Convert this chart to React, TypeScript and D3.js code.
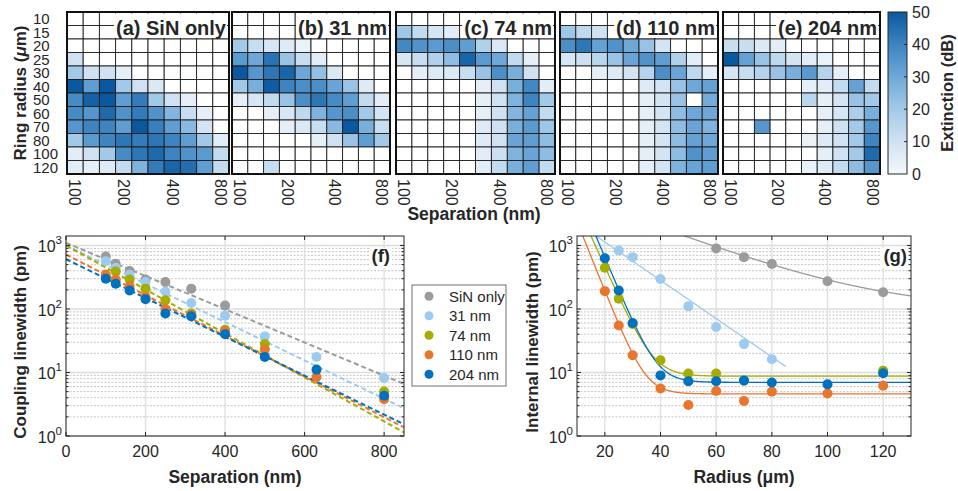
import React from 'react';
import * as d3 from 'd3';

const FONT = '"Liberation Sans", Arial, Helvetica, sans-serif';
const TXT = '#262626';

// ---------------- heatmap data ----------------
const radiusCats = ['10', '15', '20', '25', '30', '40', '50', '60', '70', '80', '100', '120'];
const sepCats = ['100', '126', '158', '200', '251', '316', '398', '501', '631', '794'];
const sepTickCats = ['100', '200', '398', '794'];
const sepTickLabels = ['100', '200', '400', '800'];
const panelTitles = ['(a) SiN only', '(b) 31 nm', '(c) 74 nm', '(d) 110 nm', '(e) 204 nm'];
const extTicks = [0, 10, 20, 30, 40, 50];

const N = null;
const extA = [
  [N, N, N, N, N, N, N, N, N, N],
  [N, N, N, N, N, N, N, N, N, N],
  [N, N, N, N, N, N, N, N, N, N],
  [10, N, N, N, N, N, N, N, N, N],
  [20, 10, 10, 4, N, N, N, N, N, N],
  [50, 33, 50, 20, 10, 7, N, N, N, N],
  [38, 48, 50, 33, 42, 20, 10, 4, N, N],
  [38, 35, 46, 36, 42, 36, 26, 12, 4, N],
  [35, 40, 40, 33, 50, 41, 33, 25, 9, N],
  [20, 34, 40, 43, 42, 43, 40, 33, 20, 5],
  [5, 10, 20, 38, 43, 46, 40, 36, 34, 13],
  [5, 4, 6, 13, 27, 42, 47, 45, 33, 13],
];
const extB = [
  [N, N, N, N, N, N, N, N, N, N],
  [N, N, N, N, N, N, N, N, N, N],
  [20, 12, 8, 6, 3, N, N, N, N, N],
  [34, 30, 44, 22, 12, 5, N, N, N, N],
  [50, 35, 43, 47, 30, 23, 7, N, N, N],
  [20, 28, 49, 40, 37, 37, 31, 22, 6, N],
  [4, 8, 13, 22, 37, 43, 38, 33, 13, 5],
  [N, N, 4, 8, 14, 27, 35, 37, 20, 9],
  [N, N, N, 4, 7, 12, 25, 50, 28, 12],
  [N, N, N, N, N, 4, 10, 22, 33, 20],
  [N, N, N, N, N, N, N, N, N, N],
  [N, N, 12, N, N, N, N, N, N, N],
];
const extC = [
  [N, N, N, N, N, N, N, N, N, N],
  [21, 13, 8, 5, N, N, N, N, N, N],
  [39, 36, 34, 37, 33, 17, 7, N, N, N],
  [8, 12, 17, 24, 47, 34, 30, 13, 4, N],
  [N, 4, 6, 7, 12, 22, 37, 28, 10, N],
  [N, N, N, N, N, 4, 10, 28, 39, 5],
  [N, N, N, N, N, 4, 10, 27, 40, 20],
  [N, N, N, N, N, 4, 10, 26, 32, 13],
  [N, N, N, N, N, 6, 10, 28, 34, 21],
  [N, N, N, N, N, 6, 10, 31, 33, 24],
  [N, N, N, N, N, 5, 11, 27, 31, 24],
  [N, N, N, N, N, 5, 13, 28, 33, 13],
];
const extD = [
  [N, N, N, N, N, N, N, N, N, N],
  [21, 14, 10, N, N, N, N, N, N, N],
  [37, 43, 32, 36, 30, 22, 9, N, N, N],
  [8, 11, 15, 22, 31, 36, 33, 17, 5, N],
  [N, N, 4, 6, 9, 16, 37, 31, 14, 4],
  [N, N, N, N, N, 6, 9, 22, 30, 32],
  [N, N, N, N, N, 4, 9, 22, N, 29],
  [N, N, N, N, N, 4, 9, 24, 30, 30],
  [N, N, N, N, N, 4, 9, 24, 31, 27],
  [N, N, N, N, N, 4, 9, 24, 32, 30],
  [N, N, N, N, N, 4, 9, 24, 36, 33],
  [N, N, N, N, N, 4, 9, 27, 31, 33],
];
const extE = [
  [N, N, N, N, N, N, N, N, N, N],
  [N, N, N, N, N, N, N, N, N, N],
  [12, 12, 7, 5, N, N, N, N, N, N],
  [50, 32, 22, 14, 9, 5, 3, N, N, N],
  [8, 12, 16, 22, 28, 34, 16, 4, N, N],
  [N, N, N, N, N, 4, 5, 13, 32, 13],
  [N, N, N, N, N, 15, 4, 9, 22, 20],
  [N, N, N, N, N, N, 4, 8, 18, 28],
  [N, N, 35, N, N, N, 4, 10, 20, 35],
  [N, N, N, N, N, 3, 6, 10, 20, 40],
  [N, N, N, N, N, N, 4, 10, 20, 46],
  [N, N, N, N, N, 3, 6, 13, 24, 35],
];
const extPanels = [extA, extB, extC, extD, extE];

// ---------------- line plot data ----------------
const seriesNames = ['SiN only', '31 nm', '74 nm', '110 nm', '204 nm'];
const seriesColors = ['#9b9b9b', '#9dcbef', '#a4ad00', '#e8762d', '#0071bf'];

const sepPoints = [100, 125, 160, 200, 250, 315, 400, 500, 630, 800];
const couplingSiN = [671, 516, 395, 290, 265, 209, 113, N, N, N];
const coupling31 = [567, 446, 347, 265, 189, 124, 78, 37, 17.6, 8.2];
const coupling74 = [N, 390, 290, 209, 137, 85, 47, 28, N, 5.0];
const coupling110 = [350, 290, 227, 155, 100, 80, 45, 23, 8.5, 3.8];
const coupling204 = [300, 250, 196, 142, 85, 77, 40, 17.6, 11.1, 4.3];
const couplingSeries = [couplingSiN, coupling31, coupling74, coupling110, coupling204];
// exponential fits: value at 0 nm and at 850 nm
const couplingFitStart = [1100, 1000, 1000, 720, 610];
const couplingFitEnd = [6.6, 2.73, 1.14, 1.37, 1.53];
const sepAxisTicks = [0, 200, 400, 600, 800];

const radiusPoints = [20, 25, 30, 40, 50, 60, 70, 80, 100, 120];
const internalSiN = [N, N, N, N, N, 900, 655, 513, 273, 183];
const internal31 = [N, 834, 655, 296, 110, 52, 28, 16.2, N, N];
const internal74 = [446, 145, 58, 15.6, 9.6, 9.6, 7.4, N, N, 10.7];
const internal110 = [191, 55, 18.7, 5.6, 3.07, 5.1, 3.57, 5.0, 4.66, 6.2];
const internal204 = [631, 196, 60, 9.0, 7.3, 7.3, 7.5, 6.95, 6.5, 9.7];
const internalSeries = [internalSiN, internal31, internal74, internal110, internal204];
// fits: base + amp * exp(-rate * R)
const internalFitBase = [100, 0, 8.75, 4.6, 7.0];
const internalFitAmp = [8256, 4566, 41300, 29800, 78700];
const internalFitRate = [0.0378, 0.0695, 0.225, 0.2526, 0.24];
const internalFitRmax = [130, 85, 130, 130, 130];
const radiusAxisTicks = [20, 40, 60, 80, 100, 120];

const yDecades = [1, 10, 100, 1000];
const yDecadeExp = ['0', '1', '2', '3'];

// ---------------- helpers ----------------
let _ctx: CanvasRenderingContext2D | null = null;
function textW(t: string, font: string): number {
  if (!_ctx) _ctx = document.createElement('canvas').getContext('2d');
  if (!_ctx) return t.length * 10;
  _ctx.font = font;
  return _ctx.measureText(t).width;
}

const extColor = d3
  .scaleLinear<string>()
  .domain([0, 10, 20, 30, 40, 50])
  .range(['#f4f8fc', '#d0e2f2', '#a3c9e8', '#6fa8d8', '#3d84c0', '#0a58a0'])
  .clamp(true);

const hmLeft = [67, 232, 396, 560, 723];
const hmRight = [229, 390, 555, 718, 880];
const hmTop = 12;
const hmBottom = 174;

function Heatmaps() {
  const yb = d3.scaleBand<string>().domain(radiusCats).range([hmTop, hmBottom]);
  const titleFont = `bold 20px "Liberation Sans", Arial`;
  return (
    <g>
      {extPanels.map((data, p) => {
        const xb = d3.scaleBand<string>().domain(sepCats).range([hmLeft[p], hmRight[p]]);
        const tw = textW(panelTitles[p], titleFont);
        const tx = hmRight[p] - 3;
        return (
          <g key={p}>
            {data.map((row, i) =>
              row.map((v, j) => (
                <rect
                  key={`${i}-${j}`}
                  x={xb(sepCats[j])}
                  y={yb(radiusCats[i])}
                  width={xb.bandwidth()}
                  height={yb.bandwidth()}
                  fill={v == null ? '#ffffff' : extColor(v)}
                  stroke="#1e1e1e"
                  strokeWidth={0.9}
                />
              ))
            )}
            <rect x={tx - tw - 2} y={hmTop + 1.5} width={tw + 3} height={24.5} fill="#fff" />
            <text x={tx} y={hmTop + 23} textAnchor="end" fontSize={20} fontWeight="bold" fill={TXT}>
              {panelTitles[p]}
            </text>
            <rect
              x={hmLeft[p]}
              y={hmTop}
              width={hmRight[p] - hmLeft[p]}
              height={hmBottom - hmTop}
              fill="none"
              stroke="#111"
              strokeWidth={2}
            />
            {sepTickCats.map((c, k) => (
              <text
                key={c}
                transform={`translate(${(xb(c) as number) + xb.bandwidth() / 2},${hmBottom + 5}) rotate(90)`}
                dy="0.35em"
                fontSize={16}
                fill={TXT}
              >
                {sepTickLabels[k]}
              </text>
            ))}
          </g>
        );
      })}
      {radiusCats.map((c) => (
        <text key={c} x={33} y={(yb(c) as number) + yb.bandwidth() / 2} dy="0.36em" fontSize={15} fill={TXT}>
          {c}
        </text>
      ))}
      <text
        transform={`translate(26,${(hmTop + hmBottom) / 2}) rotate(-90)`}
        textAnchor="middle"
        fontSize={17}
        fontWeight="bold"
        fill={TXT}
      >
        Ring radius (<tspan fontStyle="italic">μ</tspan>m)
      </text>
      <text x={474} y={220} textAnchor="middle" fontSize={17.5} fontWeight="bold" fill={TXT}>
        Separation (nm)
      </text>
    </g>
  );
}

function ColorBar() {
  const x0 = 888;
  const w = 19;
  const cy = d3.scaleLinear().domain([0, 50]).range([hmBottom, hmTop]);
  const stops = d3.range(0, 51, 5);
  return (
    <g>
      <defs>
        <linearGradient id="cbgrad" x1="0" y1="1" x2="0" y2="0">
          {stops.map((s) => (
            <stop key={s} offset={`${(s / 50) * 100}%`} stopColor={extColor(s)} />
          ))}
        </linearGradient>
      </defs>
      <rect x={x0} y={hmTop} width={w} height={hmBottom - hmTop} fill="url(#cbgrad)" stroke={TXT} strokeWidth={1} />
      {extTicks.map((t) => (
        <g key={t}>
          {t > 0 && t < 50 && <line x1={x0 + w - 3} x2={x0 + w} y1={cy(t)} y2={cy(t)} stroke={TXT} strokeWidth={1} />}
          <text x={x0 + w + 5} y={cy(t)} dy="0.36em" fontSize={16} fill={TXT}>
            {t}
          </text>
        </g>
      ))}
      <text
        transform={`translate(953,${(hmTop + hmBottom) / 2}) rotate(-90)`}
        textAnchor="middle"
        fontSize={16.5}
        fontWeight="bold"
        fill={TXT}
      >
        Extinction (dB)
      </text>
    </g>
  );
}

type AxesProps = {
  id: string;
  left: number;
  right: number;
  top: number;
  bottom: number;
  xDomain: [number, number];
  xTicks: number[];
  xLabel: React.ReactNode;
  yLabel: string;
  yLabelX: number;
  tag: string;
  tagRight: number;
  children: (x: d3.ScaleLinear<number, number>, y: d3.ScaleLogarithmic<number, number>) => React.ReactNode;
};

const Y_MAX = 1410;

function LogAxes(props: AxesProps) {
  const { id, left, right, top, bottom, xDomain, xTicks, xLabel, yLabel, yLabelX, tag, tagRight } = props;
  const x = d3.scaleLinear().domain(xDomain).range([left, right]);
  const y = d3.scaleLog().domain([1, Y_MAX]).range([bottom, top]);
  const minors: number[] = [];
  yDecades.forEach((d) => {
    for (let m = 2; m <= 9; m++) if (d * m < Y_MAX) minors.push(d * m);
  });
  const tagW = textW(tag, 'bold 18.5px "Liberation Sans", Arial');
  return (
    <g>
      <defs>
        <clipPath id={id}>
          <rect x={left} y={top} width={right - left} height={bottom - top} />
        </clipPath>
      </defs>
      <rect x={left} y={top} width={right - left} height={bottom - top} fill="#fff" />
      {minors.map((v) => (
        <line key={`m${v}`} x1={left} x2={right} y1={y(v)} y2={y(v)} stroke="#c6c6c6" strokeWidth={1} strokeDasharray="2,1.5" />
      ))}
      {yDecades.map((v) => (
        <line key={`d${v}`} x1={left} x2={right} y1={y(v)} y2={y(v)} stroke="#dcdcdc" strokeWidth={1.6} />
      ))}
      {xTicks.map((t) => (
        <line key={`g${t}`} x1={x(t)} x2={x(t)} y1={top} y2={bottom} stroke="#e0e0e0" strokeWidth={1.4} />
      ))}
      <rect x={tagRight - tagW - 2} y={top + 12} width={tagW + 4} height={20} fill="#fff" />
      <g clipPath={`url(#${id})`}>{props.children(x, y)}</g>
      <text x={tagRight} y={top + 25.5} textAnchor="end" fontSize={18.5} fontWeight="bold" fill={TXT}>
        {tag}
      </text>
      <rect x={left} y={top} width={right - left} height={bottom - top} fill="none" stroke={TXT} strokeWidth={1} />
      {xTicks.map((t) => (
        <g key={`t${t}`}>
          <line x1={x(t)} x2={x(t)} y1={bottom} y2={bottom - 4} stroke={TXT} />
          <line x1={x(t)} x2={x(t)} y1={top} y2={top + 4} stroke={TXT} />
          <text x={x(t)} y={bottom + 21} textAnchor="middle" fontSize={16} fill={TXT}>
            {t}
          </text>
        </g>
      ))}
      {minors.map((v) => (
        <g key={`mt${v}`}>
          <line x1={left} x2={left + 2.5} y1={y(v)} y2={y(v)} stroke={TXT} />
          <line x1={right} x2={right - 2.5} y1={y(v)} y2={y(v)} stroke={TXT} />
        </g>
      ))}
      {yDecades.map((v, i) => (
        <g key={`yt${v}`}>
          <line x1={left} x2={left + 4} y1={y(v)} y2={y(v)} stroke={TXT} />
          <line x1={right} x2={right - 4} y1={y(v)} y2={y(v)} stroke={TXT} />
          <text x={left - 4} y={y(v) + 7} textAnchor="end" fontSize={16} fill={TXT}>
            10
            <tspan dy={-8} fontSize={11.5}>
              {yDecadeExp[i]}
            </tspan>
          </text>
        </g>
      ))}
      <text x={(left + right) / 2} y={bottom + 47} textAnchor="middle" fontSize={17.5} fontWeight="bold" fill={TXT}>
        {xLabel}
      </text>
      <text
        transform={`translate(${yLabelX},${(top + bottom) / 2 + 6}) rotate(-90)`}
        textAnchor="middle"
        fontSize={17}
        fontWeight="bold"
        fill={TXT}
      >
        {yLabel}
      </text>
    </g>
  );
}

function CouplingPanel() {
  return (
    <LogAxes
      id="clipF"
      left={66}
      right={404}
      top={236}
      bottom={436}
      xDomain={[0, 850]}
      xTicks={sepAxisTicks}
      xLabel="Separation (nm)"
      yLabel="Coupling linewidth (pm)"
      yLabelX={26}
      tag="(f)"
      tagRight={390}
    >
      {(x, y) => (
        <g>
          {seriesNames.map((s, i) => (
            <line
              key={`fit${s}`}
              x1={x(0)}
              y1={y(couplingFitStart[i])}
              x2={x(850)}
              y2={y(couplingFitEnd[i])}
              stroke={seriesColors[i]}
              strokeWidth={2}
              strokeDasharray="5,3"
            />
          ))}
          {couplingSeries.map((vals, i) =>
            vals.map((v, j) =>
              v == null ? null : (
                <circle key={`p${i}-${j}`} cx={x(sepPoints[j])} cy={y(v)} r={5} fill={seriesColors[i]} />
              )
            )
          )}
        </g>
      )}
    </LogAxes>
  );
}

function InternalPanel() {
  return (
    <LogAxes
      id="clipG"
      left={577}
      right={911}
      top={236}
      bottom={436}
      xDomain={[10, 130]}
      xTicks={radiusAxisTicks}
      xLabel="Radius (μm)"
      yLabel="Internal linewidth (pm)"
      yLabelX={538}
      tag="(g)"
      tagRight={907}
    >
      {(x, y) => (
        <g>
          {seriesNames.map((s, i) => {
            const rs = d3.range(10, internalFitRmax[i] + 0.001, 0.2);
            const line = d3
              .line<number>()
              .x((r) => x(r))
              .y((r) => y(Math.max(0.5, internalFitBase[i] + internalFitAmp[i] * Math.exp(-internalFitRate[i] * r))));
            return <path key={`gfit${s}`} d={line(rs) || ''} fill="none" stroke={seriesColors[i]} strokeWidth={1.3} />;
          })}
          {internalSeries.map((vals, i) =>
            vals.map((v, j) =>
              v == null ? null : (
                <circle key={`q${i}-${j}`} cx={x(radiusPoints[j])} cy={y(v)} r={5} fill={seriesColors[i]} />
              )
            )
          )}
        </g>
      )}
    </LogAxes>
  );
}

function Legend() {
  const x0 = 412;
  const y0 = 285;
  const rowY = d3.scaleBand<string>().domain(seriesNames).range([y0 + 1.5, y0 + 99]);
  return (
    <g>
      <rect x={x0} y={y0} width={94} height={101} fill="#fff" stroke="#6e6e6e" strokeWidth={1} />
      {seriesNames.map((s, i) => {
        const cy = (rowY(s) as number) + rowY.bandwidth() / 2;
        return (
          <g key={s}>
            <circle cx={x0 + 17} cy={cy} r={4.5} fill={seriesColors[i]} />
            <text x={x0 + 37} y={cy} dy="0.36em" fontSize={15} fill={TXT}>
              {s}
            </text>
          </g>
        );
      })}
    </g>
  );
}

export default function App() {
  return (
    <svg
      width={958}
      height={491}
      style={{ position: 'absolute', left: 0, top: 0, background: '#fff' }}
      fontFamily={FONT}
    >
      <rect x={0} y={0} width={958} height={491} fill="#fff" />
      <Heatmaps />
      <ColorBar />
      <CouplingPanel />
      <InternalPanel />
      <Legend />
    </svg>
  );
}
